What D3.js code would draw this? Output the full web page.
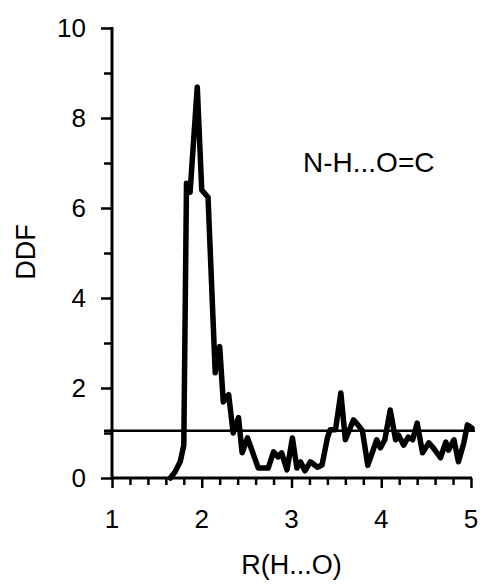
<!DOCTYPE html>
<html>
<head>
<meta charset="utf-8">
<script src="https://cdn.jsdelivr.net/npm/d3@7"></script>
<style>
  body { margin: 0; background: #fff; }
  text { font-family: "Liberation Sans", Arial, sans-serif; fill: #000; }
</style>
</head>
<body>
<svg id="chart"></svg>
<script>
// DDF of the N-H...O=C distance
const rValues = [1.65, 1.70, 1.76, 1.80, 1.83, 1.87, 1.95, 2.00, 2.07, 2.15, 2.20, 2.24, 2.30, 2.35, 2.41,
                 2.45, 2.51, 2.63, 2.74, 2.80, 2.85, 2.89, 2.95, 3.01, 3.06, 3.10, 3.15, 3.21, 3.29, 3.34,
                 3.40, 3.43, 3.49, 3.55, 3.60, 3.69, 3.74, 3.79, 3.85, 3.95, 3.99, 4.04, 4.10, 4.16, 4.19,
                 4.25, 4.30, 4.35, 4.40, 4.46, 4.53, 4.58, 4.66, 4.72, 4.75, 4.81, 4.86, 4.92, 4.96, 5.01];
const ddfValues = [0.00, 0.13, 0.36, 0.73, 6.55, 6.35, 8.69, 6.40, 6.24, 2.34, 2.92, 1.69, 1.85, 1.00, 1.34,
                   0.56, 0.89, 0.22, 0.22, 0.58, 0.47, 0.56, 0.18, 0.89, 0.22, 0.36, 0.16, 0.36, 0.24, 0.29,
                   0.89, 1.07, 1.07, 1.89, 0.85, 1.29, 1.18, 1.05, 0.28, 0.85, 0.67, 0.85, 1.51, 0.85, 0.96,
                   0.73, 0.91, 0.85, 1.22, 0.56, 0.78, 0.67, 0.45, 0.80, 0.62, 0.85, 0.36, 0.78, 1.18, 1.11];
const refLevel = 1.05;
const xTicks = [1, 2, 3, 4, 5];
const yTicks = [0, 2, 4, 6, 8, 10];
const label = "N-H...O=C";

const width = 483, height = 585;
const svg = d3.select("#chart").attr("width", width).attr("height", height);

const x = d3.scaleLinear().domain([1, 5]).range([112, 471]);
const y = d3.scaleLinear().domain([0, 10]).range([478, 28]);

// y axis: major ticks at even values, minor at odd
const yAxis = svg.append("g").attr("transform", `translate(${x(1)},0)`);
yAxis.call(d3.axisLeft(y).tickValues(d3.range(0, 11, 1)).tickSize(9).tickFormat(""));
yAxis.call(g => g.select(".domain").remove());
yAxis.selectAll(".tick line")
  .attr("x2", d => d % 2 === 0 ? -11 : -8)
  .attr("stroke", "#000").attr("stroke-width", 2.5);
yAxis.append("line").attr("y1", y(10) - 1).attr("y2", y(0) + 1)
  .attr("stroke", "#000").attr("stroke-width", 3);
yAxis.selectAll(".ylab").data(yTicks).join("text").attr("class", "ylab")
  .attr("x", -26).attr("y", d => y(d)).attr("dy", "0.36em")
  .attr("text-anchor", "end").attr("font-size", 26).text(d => d);

// x axis: major at integers, minor every 0.2
const xAxis = svg.append("g").attr("transform", `translate(0,${y(0)})`);
xAxis.call(d3.axisBottom(x).tickValues(d3.range(0, 21).map(i => 1 + i * 0.2)).tickSize(7).tickFormat(""));
xAxis.call(g => g.select(".domain").remove());
xAxis.selectAll(".tick line")
  .attr("y2", (d, i) => i % 5 === 0 ? 10 : 7)
  .attr("stroke", "#000").attr("stroke-width", 2.5);
xAxis.append("line").attr("x1", x(1) - 1).attr("x2", x(5) + 1)
  .attr("stroke", "#000").attr("stroke-width", 3);
xAxis.selectAll(".xlab").data(xTicks).join("text").attr("class", "xlab")
  .attr("x", d => x(d)).attr("y", 50)
  .attr("text-anchor", "middle").attr("font-size", 26).text(d => d);

// reference line at DDF = 1
svg.append("line")
  .attr("x1", x(1) - 8).attr("x2", x(5) + 4)
  .attr("y1", y(refLevel)).attr("y2", y(refLevel))
  .attr("stroke", "#000").attr("stroke-width", 2.5);

// DDF curve
const pts = rValues.map((r, i) => [r, ddfValues[i]]);
svg.append("path").datum(pts)
  .attr("fill", "none").attr("stroke", "#000").attr("stroke-width", 5.5)
  .attr("stroke-linejoin", "round").attr("stroke-linecap", "round")
  .attr("d", d3.line().x(d => x(d[0])).y(d => y(d[1])));

// titles
svg.append("text").attr("x", x(3)).attr("y", 574)
  .attr("text-anchor", "middle").attr("font-size", 27).text("R(H...O)");
svg.append("text").attr("transform", `translate(35,252) rotate(-90)`)
  .attr("text-anchor", "middle").attr("font-size", 27).text("DDF");
svg.append("text").attr("x", 303).attr("y", 172)
  .attr("font-size", 28).text(label);
</script>
</body>
</html>
